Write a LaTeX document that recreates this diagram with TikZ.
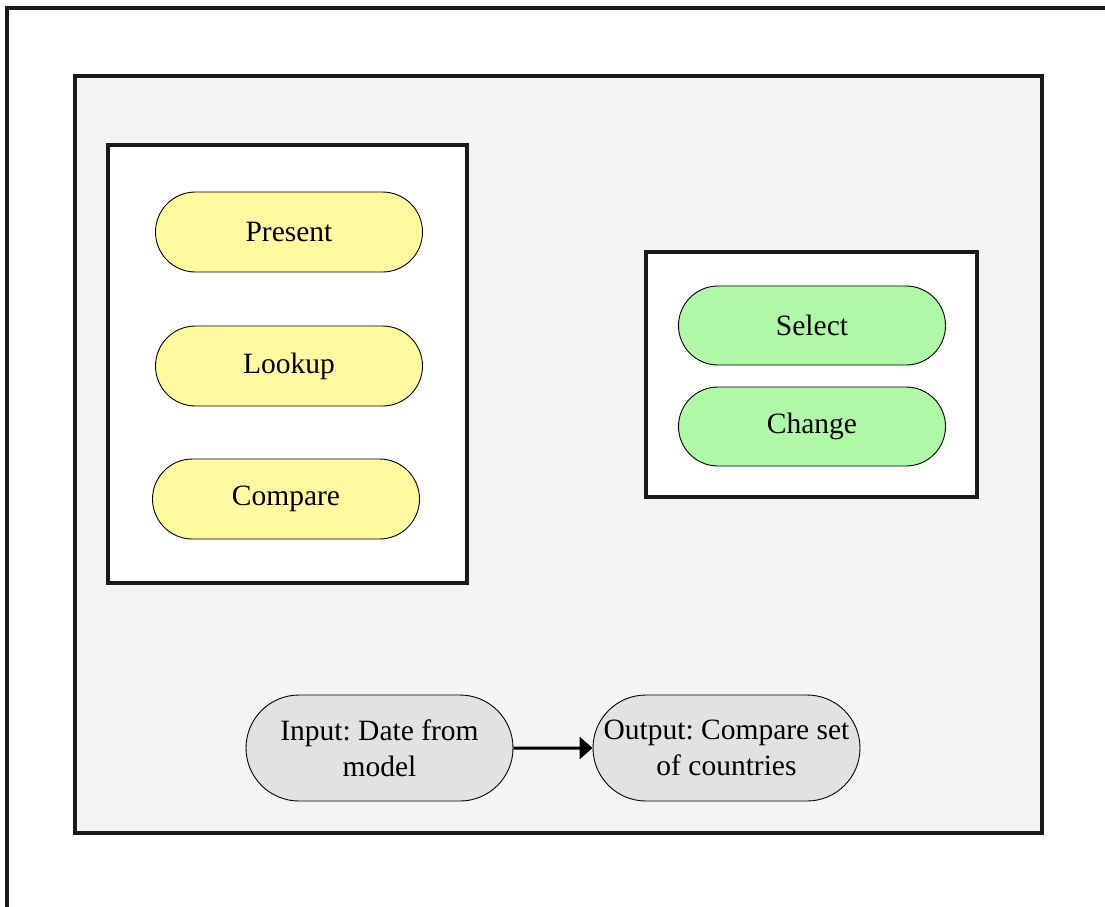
\documentclass[tikz,border=0pt]{standalone}
\usepackage{fontspec}
\setmainfont{Liberation Serif}
\usetikzlibrary{shapes.misc,arrows.meta}
\definecolor{panel}{RGB}{244,244,244}
\definecolor{pillY}{RGB}{255,250,160}
\definecolor{pillG}{RGB}{176,248,168}
\definecolor{pillGr}{RGB}{226,226,226}
\definecolor{frame}{RGB}{26,26,26}
\frenchspacing
\tikzset{
  pill/.style={rounded rectangle, draw=black, line width=0.9pt, minimum width=267pt, inner sep=0pt, font=\fontsize{29.5}{36}\selectfont, align=center},
  ylw/.style={pill, fill=pillY, minimum height=80pt},
  grn/.style={pill, fill=pillG, minimum height=79pt},
  gry/.style={pill, fill=pillGr, minimum height=106pt},
  box/.style={draw=frame, line width=3.2pt},
}
\begin{document}
\begin{tikzpicture}[x=1pt,y=-1pt]
\useasboundingbox (0,0) rectangle (1105,906);
\begin{scope}
\clip (0,0) rectangle (1105,906);
\draw[line width=3.2pt, draw=frame] (7,8) rectangle (1130,930);
\end{scope}
\draw[box, fill=panel] (75,76) rectangle (1042,833);
\draw[box, fill=white] (108,145) rectangle (467,583);
\draw[box, fill=white] (646,252) rectangle (977,497);
\node[ylw] (present) at (289,232) {Present};
\node[ylw] (lookup) at (289,366) {Lookup};
\node[ylw] (compare) at (286,499) {Compare};
\node[grn] (select) at (812,325.5) {Select};
\node[grn] (change) at (812,426.5) {Change};
\node[gry] (input) at (379.5,748) {Input: Date from\\model};
\node[gry] (output) at (726.5,748) {Output: Compare set\\of countries};
\draw[line width=3pt, -{Triangle[length=13pt,width=22pt]}] (input) -- (output);
\end{tikzpicture}
\end{document}
